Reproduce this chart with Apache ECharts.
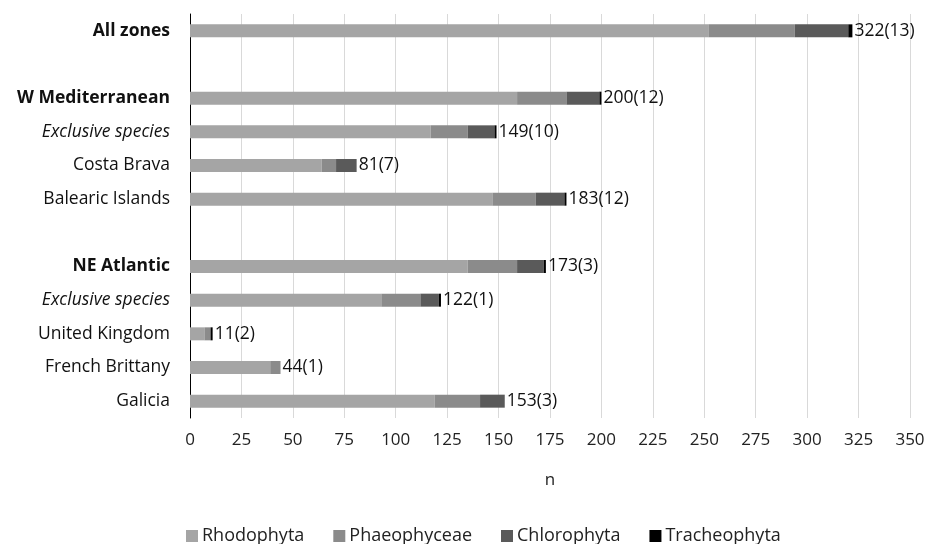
<!DOCTYPE html>
<html>
<head>
<meta charset="utf-8">
<script src="https://cdn.jsdelivr.net/npm/echarts@6/dist/echarts.min.js"></script>
<style>html,body{margin:0;padding:0;background:#fff}#c{width:933px;height:544px}</style>
</head>
<body>
<div id="c"></div>
<script>
// ---- data ----
const categories = ['All zones', '', 'W Mediterranean', 'Exclusive species', 'Costa Brava', 'Balearic Islands', '', 'NE Atlantic', 'Exclusive species', 'United Kingdom', 'French Brittany', 'Galicia'];
const rhodophyta   = [252, null, 159, 117, 64, 147, null, 135, 93, 7, 39, 119];
const phaeophyceae = [42,  null, 24,  18,  7,  21,  null, 24,  19, 3, 5,  22];
const chlorophyta  = [26,  null, 16,  13,  10, 14,  null, 13,  9,  0, 0,  12];
const tracheophyta = [2,   null, 1,   1,   0,  1,   null, 1,   1,  1, 0,  0];
const bracketValues = [13, null, 12, 10, 7, 12, null, 3, 1, 2, 1, 3];
const xTicks = [0, 25, 50, 75, 100, 125, 150, 175, 200, 225, 250, 275, 300, 325, 350];

// ---- chart ----
const rowStyle = ['b', 'n', 'b', 'i', 'n', 'n', 'n', 'b', 'i', 'n', 'n', 'n'];
const totals = categories.map((c, i) => rhodophyta[i] == null ? null :
  rhodophyta[i] + phaeophyceae[i] + chlorophyta[i] + tracheophyta[i]);
const font = 'Open Sans';
const catSize = 17.5;
const chart = echarts.init(document.getElementById('c'));
const mk = (name, data, color) => ({
  name, type: 'bar', stack: 'all', data, barWidth: 13,
  itemStyle: { color }, emphasis: { disabled: true }
});
chart.setOption({
  animation: false,
  textStyle: { fontFamily: font },
  grid: { left: 190, right: 23, top: 14, bottom: 126, containLabel: false },
  legend: {
    top: 522, left: 181, itemWidth: 12, itemHeight: 12, itemGap: 29,
    icon: 'rect',
    data: ['Rhodophyta', 'Phaeophyceae', 'Chlorophyta', 'Tracheophyta'],
    textStyle: { fontFamily: font, fontSize: 18, color: '#222', padding: [0, 0, 0, -1] }
  },
  xAxis: {
    type: 'value', min: xTicks[0], max: xTicks[xTicks.length - 1], interval: 25,
    name: 'n', nameLocation: 'middle', nameGap: 54,
    nameTextStyle: { fontFamily: font, fontSize: 17, color: '#222' },
    axisLine: { show: false }, axisTick: { show: false },
    axisLabel: { fontFamily: font, fontSize: 17, color: '#222', margin: 14 },
    splitLine: { lineStyle: { color: '#d9d9d9', width: 1 } }
  },
  yAxis: {
    type: 'category', inverse: true, data: categories,
    axisLine: { show: true, lineStyle: { color: '#000', width: 1 } },
    axisTick: { show: false },
    axisLabel: {
      margin: 20, fontSize: catSize, color: '#111', fontFamily: font,
      formatter: (v, i) => '{' + rowStyle[i] + '|' + v + '}',
      rich: {
        b: { fontWeight: 'bold', fontSize: catSize, fontFamily: font, color: '#111' },
        i: { fontStyle: 'italic', fontSize: catSize, fontFamily: font, color: '#111' },
        n: { fontSize: catSize, fontFamily: font, color: '#111' }
      }
    }
  },
  series: [
    mk('Rhodophyta', rhodophyta, '#a5a5a5'),
    mk('Phaeophyceae', phaeophyceae, '#8b8b8b'),
    mk('Chlorophyta', chlorophyta, '#5a5a5a'),
    mk('Tracheophyta', tracheophyta, '#000000'),
    {
      name: 'labels', type: 'bar', stack: 'all', barWidth: 13,
      data: totals.map(t => t == null ? null : 0),
      itemStyle: { color: 'rgba(0,0,0,0)' },
      label: {
        show: true, position: 'right', distance: 2,
        fontFamily: font, fontSize: 17.5, color: '#111',
        formatter: p => totals[p.dataIndex] + '(' + bracketValues[p.dataIndex] + ')'
      }
    }
  ]
});
</script>
</body>
</html>
